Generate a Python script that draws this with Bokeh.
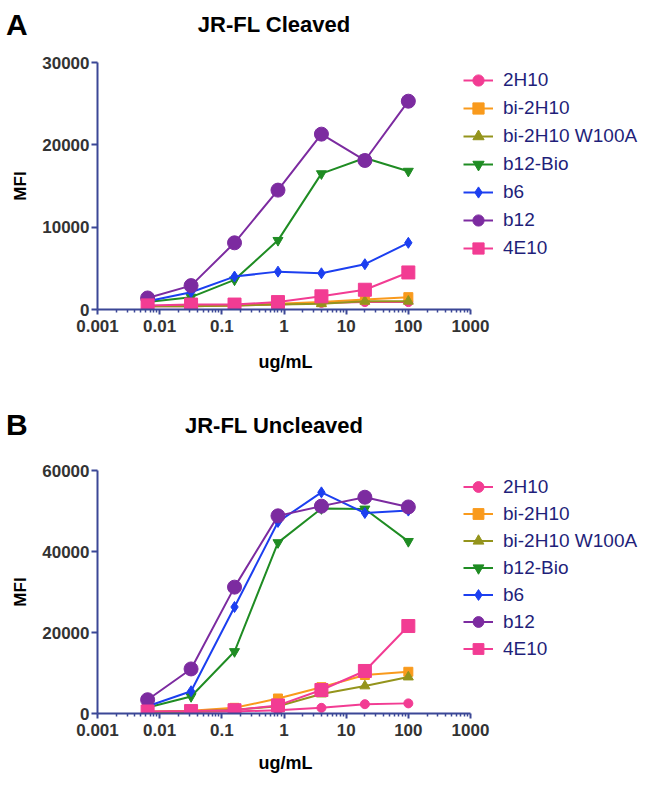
from bokeh.plotting import figure
from bokeh.models import Range1d, FixedTicker, CustomJSTickFormatter, Legend, LegendItem, Div, Title
from bokeh.layouts import column
from bokeh.embed import file_html
from bokeh.resources import INLINE

# ---------------- data ----------------
conc = [0.0064, 0.032, 0.16, 0.8, 4, 20, 100]   # ug/mL
names = ["2H10", "bi-2H10", "bi-2H10 W100A", "b12-Bio", "b6", "b12", "4E10"]

# JR-FL Cleaved (MFI)
cl_2H10 = [400, 400, 500, 600, 800, 900, 900]
cl_bi2H10 = [400, 500, 500, 700, 900, 1200, 1500]
cl_bi2H10_W100A = [400, 400, 500, 600, 700, 1000, 1000]
cl_b12Bio = [900, 1500, 3600, 8400, 16500, 18400, 16800]
cl_b6 = [1000, 2100, 4000, 4600, 4400, 5500, 8100]
cl_b12 = [1400, 2900, 8100, 14500, 21300, 18100, 25300]
cl_4E10 = [500, 600, 600, 900, 1600, 2400, 4500]

# JR-FL Uncleaved (MFI)
un_2H10 = [400, 400, 500, 800, 1400, 2300, 2500]
un_bi2H10 = [500, 700, 1400, 3700, 6500, 9500, 10300]
un_bi2H10_W100A = [400, 500, 900, 1800, 4800, 6800, 9000]
un_b12Bio = [1500, 4200, 15300, 42200, 50600, 50500, 42500]
un_b6 = [1800, 5500, 26300, 47300, 54600, 49500, 50100]
un_b12 = [3400, 11000, 31200, 48800, 51200, 53400, 51000]
un_4E10 = [500, 600, 800, 2000, 5800, 10500, 21600]

x_ticks = [0.001, 0.01, 0.1, 1, 10, 100, 1000]
y_ticks_cleaved = [0, 10000, 20000, 30000]
y_ticks_uncleaved = [0, 20000, 40000, 60000]

# ---------------- styles / layout ----------------
colors = ["#f23c93", "#f99a1c", "#94941c", "#1f8c23", "#1c3ff0", "#7c2ba0", "#f23c93"]
markers = ["circle", "square", "triangle", "inverted_triangle", "diamond", "circle", "square"]
sizes = [9, 9, 10, 10, 11, 14, 13]
NAVY = "#3b4796"
FONT = "Liberation Sans"
minor = [k * d for d in [0.001, 0.01, 0.1, 1, 10, 100] for k in range(2, 10)]

AXIS_LEFT, AXIS_RIGHT, FRAME_RIGHT = 97, 470, 650   # px: x-axis spans 0.001..1000, frame extends for legend
px_per_decade = (AXIS_RIGHT - AXIS_LEFT) / 6.0
x_end = 1000 * 10 ** ((FRAME_RIGHT - AXIS_RIGHT) / px_per_decade)
XLABEL_LEFT = 258   # px, left edge of the "ug/mL" title


def header(letter, title, letter_top, title_top):
    html = (
        "<div style=\"position:relative;width:658px;height:40px;"
        "font-family:'Liberation Sans',Arial,sans-serif;font-weight:bold;color:black\">"
        f"<div style=\"position:absolute;left:6px;top:{letter_top}px;font-size:30px;line-height:36px\">{letter}</div>"
        f"<div style=\"position:absolute;left:124px;width:300px;text-align:center;top:{title_top}px;"
        f"font-size:22px;line-height:26px;white-space:nowrap\">{title}</div>"
        "</div>"
    )
    return Div(text=html, width=658, height=40, margin=0)


def panel(series, yticks, ymax, height, btop, bbot, leg_y, item_h, xl_standoff):
    p = figure(width=658, height=height, x_axis_type="log",
               x_range=Range1d(0.001, x_end), y_range=Range1d(0, ymax),
               output_backend="svg", toolbar_location=None,
               min_border_left=AXIS_LEFT, min_border_right=658 - FRAME_RIGHT,
               min_border_top=btop, min_border_bottom=bbot)
    p.outline_line_color = None
    p.grid.visible = False
    p.background_fill_color = "white"

    p.xaxis.ticker = FixedTicker(ticks=x_ticks, minor_ticks=minor)
    p.xaxis.formatter = CustomJSTickFormatter(code="return tick.toString();")
    p.xaxis.bounds = (0.001, 1000)
    p.yaxis.ticker = FixedTicker(ticks=yticks)
    for ax in (p.xaxis, p.yaxis):
        ax.axis_line_color = NAVY
        ax.axis_line_width = 2
        ax.major_tick_line_color = NAVY
        ax.major_tick_line_width = 2
        ax.major_tick_in = 0
        ax.minor_tick_in = 0
        ax.major_label_text_font = FONT
        ax.major_label_text_font_style = "bold"
        ax.major_label_text_font_size = "17px"
        ax.major_label_text_color = "#333333"
        ax.axis_label_text_font = FONT
        ax.axis_label_text_font_style = "bold"
        ax.axis_label_text_color = "black"
    p.xaxis.major_tick_out = 5
    p.xaxis.minor_tick_out = 3
    p.xaxis.minor_tick_line_color = NAVY
    p.xaxis.minor_tick_line_width = 1.5
    p.xaxis.major_label_standoff = 5
    p.yaxis.major_tick_out = 6
    p.yaxis.minor_tick_line_color = None
    p.yaxis.major_label_standoff = 2
    p.yaxis.axis_label = "MFI"
    p.yaxis.axis_label_text_font_size = "17px"
    p.yaxis.axis_label_standoff = 9

    # x-axis title centred under the axis line (not under the whole frame)
    p.add_layout(Title(text="ug/mL", align="left", offset=XLABEL_LEFT - AXIS_LEFT, standoff=xl_standoff,
                       text_font=FONT, text_font_style="bold", text_font_size="18px",
                       text_color="black"), "below")

    items = []
    for name, ys, c, m, s in zip(names, series, colors, markers, sizes):
        r1 = p.line(conc, ys, line_color=c, line_width=2)
        r2 = p.scatter(conc, ys, marker=m, size=s, fill_color=c, line_color=c)
        items.append(LegendItem(label=name, renderers=[r1, r2]))

    leg = Legend(items=items, location=(463 - AXIS_LEFT, leg_y), padding=0, margin=0, spacing=0,
                 glyph_width=30, glyph_height=item_h, label_height=item_h,
                 label_standoff=10, label_text_font=FONT, label_text_font_size="19px",
                 label_text_color="#1f1f7a", border_line_color=None,
                 background_fill_alpha=0)
    p.add_layout(leg, "center")
    return p


h1 = header("A", "JR-FL Cleaved", 7, 12)
p1 = panel([cl_2H10, cl_bi2H10, cl_bi2H10_W100A, cl_b12Bio, cl_b6, cl_b12, cl_4E10],
           y_ticks_cleaved, 30000, 358, 22, 89, 47, 28, 30)
h2 = header("B", "JR-FL Uncleaved", 9, 15)
p2 = panel([un_2H10, un_bi2H10, un_bi2H10_W100A, un_b12Bio, un_b6, un_b12, un_4E10],
           y_ticks_uncleaved, 60000, 347, 32, 70, 51, 27, 25)

layout = column(h1, p1, h2, p2, spacing=0)
open("out.html", "w").write(file_html(layout, INLINE))
